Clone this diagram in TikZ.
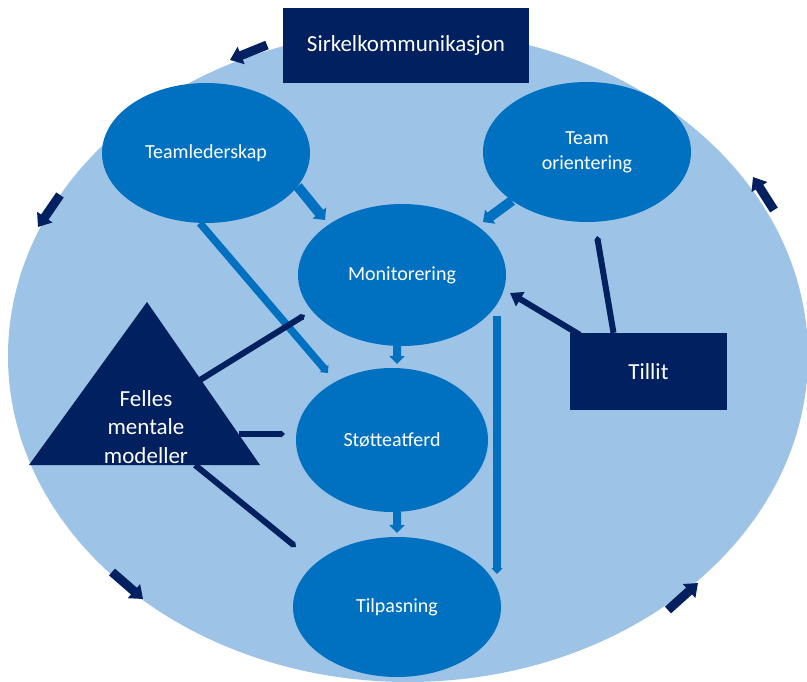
\documentclass[tikz,border=0pt]{standalone}
\usepackage{fontspec}
\setmainfont{Carlito}
\usetikzlibrary{calc,shapes.geometric,arrows.meta}

\definecolor{ringblue}{HTML}{9DC3E6}
\definecolor{ovalblue}{HTML}{0070C0}
\definecolor{boxnavy}{HTML}{002060}

\tikzset{
  ovalnode/.style={ellipse,fill=ovalblue,text=white,inner sep=0pt,
    minimum width=208pt,minimum height=140pt,align=center,
    font=\fontsize{20}{25}\selectfont},
  navybox/.style={fill=boxnavy,text=white,inner sep=0pt,
    font=\fontsize{23}{28.5}\selectfont},
  thickarrow/.style={ovalblue,line width=10pt,-{Triangle[width=17pt,length=9pt]}},
  thinbar/.style={ovalblue,line width=7.5pt,-{Triangle[width=11pt,length=6pt]}},
  navyline/.style={boxnavy,line width=6pt,-{Triangle[width=7pt,length=4pt]}},
  navyarrow/.style={boxnavy,line width=6pt,-{Triangle[width=16pt,length=12pt]}},
  ringarrow/.style={boxnavy,line width=9pt,-{Triangle[width=18pt,length=12pt]}}
}

\begin{document}
\begin{tikzpicture}[x=1pt,y=-1pt]
  \useasboundingbox (0,0) rectangle (807,682);
  \clip (0,0) rectangle (807,682);
  \fill[color=ringblue] (408,356) ellipse [x radius=400pt, y radius=326pt];

  \node[navybox,minimum width=246pt,minimum height=75pt] (sirkel) at (406,45.5)
    {Sirkelkommunikasjon};
  \node[navybox,minimum width=157pt,minimum height=77pt] (tillit) at (648.5,371.5)
    {Tillit};

  \node[ovalnode] (leder) at (206,153) {Teamlederskap};
  \node[ovalnode] (orient) at (587,152) {Team\\orientering};
  \node[ovalnode,minimum height=142pt] (monit) at (402,275) {Monitorering};
  \node[ovalnode,minimum width=192pt,minimum height=144pt] (stotte) at (392,440)
    {Støtteatferd};
  \node[ovalnode] (tilpas) at (397,607) {Tilpasning};

  \fill[boxnavy] (147,302) -- (260,465) -- (29,465) -- cycle;
  \node[navybox,fill=none,align=center] (felles) at (146,427)
    {Felles\\mentale\\modeller};

  \coordinate (lederend) at (325,220);
  \coordinate (orientend) at (483,222);
  \coordinate (longend) at (328,373);
  \coordinate (monend) at (397,364);
  \coordinate (stotteend) at (397,533);
  \coordinate (bartop) at (497,316);
  \coordinate (barbot) at (497,574);
  \coordinate (tillitend) at (510,293);
  \coordinate (trustup) at (597,236);
  \coordinate (fmon) at (200,380);
  \coordinate (fmonend) at (305,315);
  \coordinate (fst) at (239,434);
  \coordinate (fstend) at (285,434);
  \coordinate (ftil) at (195,465);
  \coordinate (ftilend) at (296,547);

  \draw[thickarrow] (leder.-20) -- (lederend);
  \draw[thickarrow] (orient.-147) -- (orientend);
  \draw[thinbar] (leder.-95) -- (longend);
  \draw[thickarrow,line width=8pt,-{Triangle[width=15pt,length=8pt]}] (monit.-94) -- (monend);
  \draw[thickarrow,line width=8pt,-{Triangle[width=15pt,length=8pt]}] (stotte.-86) -- (stotteend);
  \draw[thinbar] (bartop) -- (barbot);

  \draw[navyarrow] ($(tillit.north west)+(10,2)$) -- (tillitend);
  \draw[navyline] ($(tillit.north)+(-35,0)$) -- (trustup);
  \draw[navyline] (fmon) -- (fmonend);
  \draw[navyline] (fst) -- (fstend);
  \draw[navyline] (ftil) -- (ftilend);

  \draw[ringarrow] (267,45) -- (230,60);
  \draw[ringarrow] (60,195) -- (38,227);
  \draw[ringarrow] (112,572) -- (143,599);
  \draw[ringarrow] (668,610) -- (698,583);
  \draw[ringarrow] (774,210) -- (753,177);
\end{tikzpicture}
\end{document}
